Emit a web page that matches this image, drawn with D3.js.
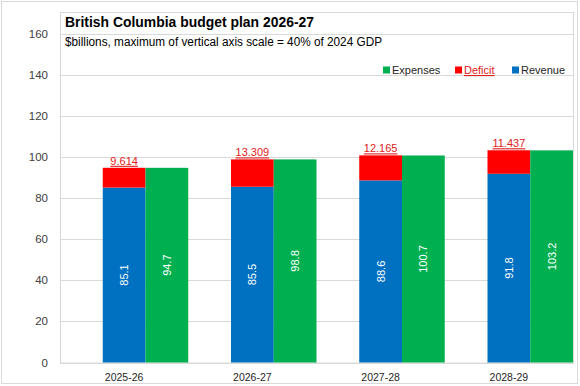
<!DOCTYPE html>
<meta charset="utf-8">
<script src="https://cdn.jsdelivr.net/npm/d3@7/dist/d3.min.js"></script>
<style>
body { margin: 0; background: #fff; }
text { font-family: "Liberation Sans", Arial, sans-serif; }
</style>
<body>
<script>

// data
var years    = ["2025-26", "2026-27", "2027-28", "2028-29"];
var revenue  = [85.1, 85.5, 88.6, 91.8];
var deficit  = [9.614, 13.309, 12.165, 11.437];
var expenses = [94.7, 98.8, 100.7, 103.2];
var yTicks   = [0, 20, 40, 60, 80, 100, 120, 140, 160];
var yMax     = 170.5;   // 40% of 2024 GDP

var width = 580, height = 386;
var plotLeft = 60, plotRight = 573, plotTop = 12, plotBottom = 362.5;

var svg = d3.select("body").append("svg")
    .attr("width", width)
    .attr("height", height);

// outer chart border
svg.append("rect")
    .attr("x", 1.5).attr("y", 1.5)
    .attr("width", 576).attr("height", 382)
    .attr("fill", "#fff")
    .attr("stroke", "#d9d9d9");

var x = d3.scaleBand().domain(years).range([plotLeft, plotRight]).padding(0);
var slot = d3.scaleBand().domain(["gap", "rev", "exp"]).range([0, x.bandwidth()]);
var y = d3.scaleLinear().domain([0, yMax]).range([plotBottom, plotTop]);

// gridlines
svg.append("g")
  .selectAll("line")
  .data(yTicks)
  .enter().append("line")
    .attr("x1", plotLeft).attr("x2", plotRight)
    .attr("y1", function(d) { return Math.round(y(d)) + 0.5; })
    .attr("y2", function(d) { return Math.round(y(d)) + 0.5; })
    .attr("stroke", "#d9d9d9")
    .attr("stroke-width", 1);

// plot area border
svg.append("rect")
    .attr("x", plotLeft + 0.5).attr("y", plotTop + 0.5)
    .attr("width", plotRight - plotLeft).attr("height", plotBottom - plotTop)
    .attr("fill", "none")
    .attr("stroke", "#d9d9d9");

// y tick labels
svg.append("g")
  .selectAll("text")
  .data(yTicks)
  .enter().append("text")
    .attr("x", 48)
    .attr("y", function(d) { return y(d) + 4; })
    .attr("text-anchor", "end")
    .attr("font-size", "11.5px")
    .attr("fill", "#404040")
    .text(function(d) { return d; });

// x labels
svg.append("g")
  .selectAll("text")
  .data(years)
  .enter().append("text")
    .attr("x", function(d) { return x(d) + x.bandwidth() / 2; })
    .attr("y", 381)
    .attr("text-anchor", "middle")
    .attr("font-size", "10.5px")
    .attr("fill", "#262626")
    .text(function(d) { return d; });

var rows = years.map(function(d, i) {
  return {year: d, rev: revenue[i], def: deficit[i], exp: expenses[i]};
});

var g = svg.append("g");

// revenue
g.selectAll(".rev")
  .data(rows)
  .enter().append("rect")
    .attr("class", "rev")
    .attr("x", function(d) { return x(d.year) + slot("rev"); })
    .attr("width", slot.bandwidth())
    .attr("y", function(d) { return y(d.rev); })
    .attr("height", function(d) { return y(0) - y(d.rev); })
    .attr("fill", "#0070c0");

// deficit stacked on revenue
g.selectAll(".def")
  .data(rows)
  .enter().append("rect")
    .attr("class", "def")
    .attr("x", function(d) { return x(d.year) + slot("rev"); })
    .attr("width", slot.bandwidth())
    .attr("y", function(d) { return y(d.rev + d.def); })
    .attr("height", function(d) { return y(d.rev) - y(d.rev + d.def); })
    .attr("fill", "#ff0000");

// expenses
g.selectAll(".exp")
  .data(rows)
  .enter().append("rect")
    .attr("class", "exp")
    .attr("x", function(d) { return x(d.year) + slot("exp"); })
    .attr("width", slot.bandwidth())
    .attr("y", function(d) { return y(d.exp); })
    .attr("height", function(d) { return y(0) - y(d.exp); })
    .attr("fill", "#00b050");

// rotated value labels inside bars
function barLabel(key) {
  g.selectAll(".lbl-" + key)
    .data(rows)
    .enter().append("text")
      .attr("transform", function(d) {
        var cx = x(d.year) + slot(key) + slot.bandwidth() / 2;
        var cy = (y(0) + y(d[key])) / 2;
        return "translate(" + (cx + 4) + "," + cy + ") rotate(-90)";
      })
      .attr("text-anchor", "middle")
      .attr("font-size", "11px")
      .attr("fill", "#fff")
      .text(function(d) { return d[key].toFixed(1); });
}
barLabel("rev");
barLabel("exp");

// deficit labels above stack
g.selectAll(".lbl-def")
  .data(rows)
  .enter().append("text")
    .attr("x", function(d) { return x(d.year) + slot("rev") + slot.bandwidth() / 2; })
    .attr("y", function(d) { return y(d.rev + d.def) - 3; })
    .attr("text-anchor", "middle")
    .attr("font-size", "11px")
    .attr("fill", "#e02020")
    .attr("text-decoration", "underline")
    .text(function(d) { return d.def.toFixed(3); });

// title
svg.append("text")
    .attr("x", 65).attr("y", 27)
    .attr("font-family", "Roboto, sans-serif")
    .attr("font-weight", "bold")
    .attr("font-size", "15.5px")
    .attr("fill", "#000")
    .attr("textLength", 249)
    .attr("lengthAdjust", "spacingAndGlyphs")
    .text("British Columbia budget plan 2026-27");

svg.append("text")
    .attr("x", 65).attr("y", 46)
    .attr("font-family", "Roboto, sans-serif")
    .attr("font-size", "12.5px")
    .attr("fill", "#000")
    .attr("textLength", 317)
    .attr("lengthAdjust", "spacingAndGlyphs")
    .text("$billions, maximum of vertical axis scale = 40% of 2024 GDP");

// legend
var legend = [
  {name: "Expenses", color: "#00b050", x: 383, text: "#262626"},
  {name: "Deficit",  color: "#ff0000", x: 455, text: "#e02020"},
  {name: "Revenue",  color: "#0070c0", x: 512, text: "#262626"}
];
var lg = svg.append("g").selectAll("g")
  .data(legend)
  .enter().append("g")
    .attr("transform", function(d) { return "translate(" + d.x + ",70)"; });
lg.append("rect")
    .attr("x", 0).attr("y", -3.5)
    .attr("width", 7).attr("height", 7)
    .attr("fill", function(d) { return d.color; });
lg.append("text")
    .attr("x", 9).attr("y", 4)
    .attr("font-size", "11px")
    .attr("fill", function(d) { return d.text; })
    .attr("text-decoration", function(d) { return d.name == "Deficit" ? "underline" : null; })
    .text(function(d) { return d.name; });

</script>
</body>
